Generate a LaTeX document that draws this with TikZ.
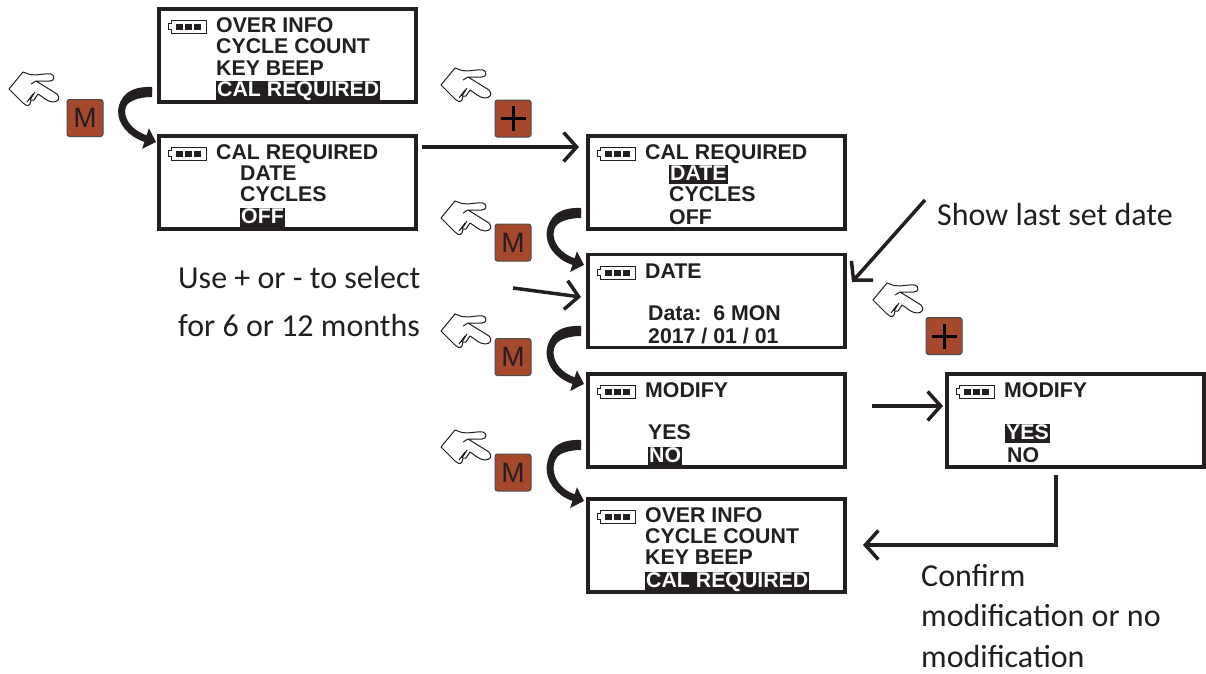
\documentclass[tikz,border=0pt]{standalone}
\usepackage{fontspec}
\setmainfont{Carlito}
\newfontfamily\lcdfont{Liberation Sans}
\usetikzlibrary{arrows.meta,calc}

\definecolor{keyBrown}{HTML}{A5482C}
\definecolor{inkBlack}{HTML}{231F20}

% thick curved step between two screens
\newcommand{\stepBend}[2]{
	\fill[inkBlack] ($(#1)+(0,-5)$) .. controls ($(#1)+(-22,-6)$) and ($(#1)+(-34,4)$) .. ($(#1)+(-33,21)$)
		-- ($(#1)+(-29,21)$) .. controls ($(#1)+(-28,10)$) and ($(#1)+(-15,5)$) .. ($(#1)+(0,5)$) -- cycle;
	\draw[bendFlow] (#1) .. controls +(-40,-2) and +(-43,-14) .. (#2);
}

\begin{document}
\begin{tikzpicture}[x=1pt,y=-1pt,
				screenBox/.style={draw=inkBlack,line width=3.5pt,fill=white,inner sep=0pt,minimum width=257pt,minimum height=93pt},
				lcd/.style={anchor=base west,inner sep=0pt,text=inkBlack,font=\lcdfont\bfseries\fontsize{21.3}{24}\selectfont},
				lcdOn/.style={lcd,fill=inkBlack,text=white,inner xsep=1pt,text height=15.5pt,text depth=3.5pt},
				key/.style={draw=black!70,line width=1pt,fill=keyBrown,rounded corners=2.5pt,minimum width=36pt,minimum height=37pt,inner sep=0pt,text=inkBlack,font=\lcdfont\fontsize{28}{28}\selectfont},
				note/.style={anchor=base west,inner sep=0pt,text=inkBlack,font=\fontsize{32}{36}\selectfont},
				flow/.style={draw=inkBlack,line width=3.5pt,-{Straight Barb[length=13pt,width=29pt,line width=3.5pt]}},
				bendFlow/.style={draw=inkBlack,line width=7pt,-{Triangle[length=11pt,width=21pt]}},
				battery/.pic={
					\draw[inkBlack,line width=1pt,fill=white] (3,0) -- (38,0) -- (38,13) -- (3,13) -- (3,9.5) -- (0,9.5) -- (0,3.5) -- (3,3.5) -- cycle;
					\foreach \cell in {8,17,26}
						\fill[inkBlack] (\cell,3.5) rectangle ++(7,6);
				},
				hand/.pic={
					\draw[inkBlack,line width=1pt,line join=round,fill=white] (0,17) -- (14,0) -- (21,2.5) .. controls (28,4) and (36,1) .. (42,2)
						.. controls (46,3) and (46,9) .. (41,9) -- (27,9) -- (48,22) .. controls (52,26) and (49,30) .. (44,30)
						.. controls (38,30) and (33,24) .. (29,22) -- (25,28) -- (22,28) -- (21,32) .. controls (19,35) and (16,33) .. (14,31) -- cycle;
					\draw[inkBlack,line width=1pt] (21,28) -- (26,20) (18,30) -- (24,22) (27,9) -- (22,12);
				}]

	% screens
	\node[screenBox] (overA) at (287.5,55.5) {};
	\node[screenBox] (calA) at (287.5,182.5) {};
	\node[screenBox] (calB) at (716.5,182.5) {};
	\node[screenBox] (dateA) at (716.5,301) {};
	\node[screenBox] (modifyA) at (716.5,420.5) {};
	\node[screenBox] (modifyB) at (1075.5,420.5) {};
	\node[screenBox] (overB) at (716.5,545.5) {};

	% battery marks
	\pic at (168,20) {battery};
	\pic at (168,147) {battery};
	\pic at (597,147) {battery};
	\pic at (597,266) {battery};
	\pic at (597,385) {battery};
	\pic at (956,385) {battery};
	\pic at (597,510) {battery};

	% screen lines
	\node[lcd] (overAa) at (216,32) {OVER INFO};
	\node[lcd] (overAb) at (216,53) {CYCLE COUNT};
	\node[lcd] (overAc) at (216,75) {KEY BEEP};
	\node[lcdOn] (overAd) at (216,96) {CAL REQUIRED};

	\node[lcd] (calAa) at (216,159) {CAL REQUIRED};
	\node[lcd] (calAb) at (240,180) {DATE};
	\node[lcd] (calAc) at (240,201) {CYCLES};
	\node[lcdOn] (calAd) at (240,223) {OFF};

	\node[lcd] (calBa) at (645,159) {CAL REQUIRED};
	\node[lcdOn] (calBb) at (669,180) {DATE};
	\node[lcd] (calBc) at (669,201) {CYCLES};
	\node[lcd] (calBd) at (669,224) {OFF};

	\node[lcd] (dateAa) at (645,278) {DATE};
	\node[lcd] (dateAb) at (648,320) {Data:\ \ 6 MON};
	\node[lcd] (dateAc) at (648,343) {2017 / 01 / 01};

	\node[lcd] (modifyAa) at (645,397) {MODIFY};
	\node[lcd] (modifyAb) at (648,439) {YES};
	\node[lcdOn] (modifyAc) at (648,462) {NO};

	\node[lcd] (modifyBa) at (1004,397) {MODIFY};
	\node[lcdOn] (modifyBb) at (1005,439) {YES};
	\node[lcd] (modifyBc) at (1007,462) {NO};

	\node[lcd] (overBa) at (645,522) {OVER INFO};
	\node[lcd] (overBb) at (645,543) {CYCLE COUNT};
	\node[lcd] (overBc) at (645,564) {KEY BEEP};
	\node[lcdOn] (overBd) at (645,587) {CAL REQUIRED};

	% keys and hands
	\node[key] (keyA) at (85,118) {M};
	\node[key] (keyB) at (513,118.5) {};
	\node[key] (keyC) at (513,242.5) {M};
	\node[key] (keyD) at (513,357) {M};
	\node[key] (keyE) at (513,472.5) {M};
	\node[key] (keyF) at (944,336) {};
	\draw[black,line width=3pt] ($(keyB)+(-12.5,0)$) -- ($(keyB)+(12.5,0)$) ($(keyB)+(0,-12.5)$) -- ($(keyB)+(0,12.5)$);
	\draw[black,line width=3pt] ($(keyF)+(-12.5,0)$) -- ($(keyF)+(12.5,0)$) ($(keyF)+(0,-12.5)$) -- ($(keyF)+(0,12.5)$);
	\pic at (9,72) {hand};
	\pic at (441,68) {hand};
	\pic at (441,201) {hand};
	\pic at (441,314) {hand};
	\pic at (441,430) {hand};
	\pic at (873,283) {hand};

	% notes
	\node[note] (noteSelectA) at (178,288) {Use + or - to select};
	\node[note] (noteSelectB) at (178,336) {for 6 or 12 months};
	\node[note] (noteShow) at (937,225) {Show last set date};
	\node[note] (noteConfirmA) at (921,586) {Confirm};
	\node[note] (noteConfirmB) at (921,626) {modification or no};
	\node[note] (noteConfirmC) at (921,667) {modification};

	% free ends of the connectors
	\coordinate (bendAs) at (152,92);
	\coordinate (bendAt) at (156,142);
	\coordinate (bendBs) at (581,213);
	\coordinate (bendBt) at (584,265);
	\coordinate (bendCs) at (581,331);
	\coordinate (bendCt) at (584,384);
	\coordinate (bendDs) at (581,445);
	\coordinate (bendDt) at (584,501);
	\coordinate (flowAs) at (422,147);
	\coordinate (flowAt) at (579,147);
	\coordinate (flowBs) at (513,288);
	\coordinate (flowBt) at (581,297);
	\coordinate (flowCs) at (925,200);
	\coordinate (flowCt) at (852,282);
	\coordinate (flowDs) at (872,406);
	\coordinate (flowDt) at (943,406);
	\coordinate (flowEs) at (1056,475);
	\coordinate (flowEm) at (1056,545);
	\coordinate (flowEt) at (863,545);

	% connectors
	\stepBend{bendAs}{bendAt}
	\stepBend{bendBs}{bendBt}
	\stepBend{bendCs}{bendCt}
	\stepBend{bendDs}{bendDt}
	\draw[flow] (flowAs) -- (flowAt);
	\draw[flow] (flowBs) -- (flowBt);
	\draw[flow] (flowCs) -- (flowCt);
	\draw[flow] (flowDs) -- (flowDt);
	\draw[flow] (flowEs) -- (flowEm) -- (flowEt);

	\useasboundingbox (0,0) rectangle (1206,673);
\end{tikzpicture}
\end{document}
